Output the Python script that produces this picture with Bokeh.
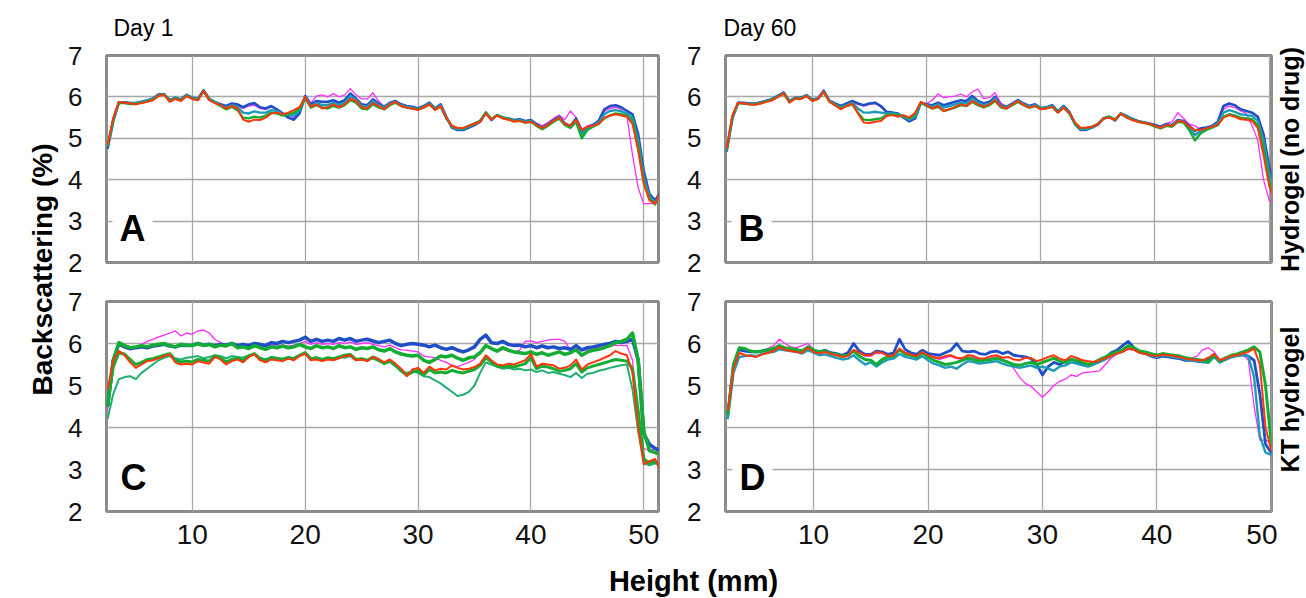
import numpy as np
from bokeh.plotting import figure
from bokeh.models import Range1d, FixedTicker, Label
from bokeh.layouts import row, column
from bokeh.embed import file_html
from bokeh.resources import INLINE

FONT = "Liberation Sans"

# ---------------- data ----------------
x_ticks = [10, 20, 30, 40, 50]
y_ticks = [2, 3, 4, 5, 6, 7]
height_ac = np.round(np.arange(2.5, 51.51, 0.5), 2)   # Height (mm), panels A and C
height_bd = np.round(np.arange(2.5, 50.51, 0.5), 2)   # Height (mm), panels B and D

# Panel A : hydrogel (no drug), day 1
a_mag = [4.75,5.42,5.88,5.87,5.86,5.85,5.88,5.92,5.97,6.08,
         6.06,5.92,5.98,5.94,6.06,5.98,5.95,6.17,5.95,5.88,
         5.84,5.76,5.82,5.80,5.72,5.78,5.80,5.72,5.70,5.76,
         5.70,5.62,5.55,5.50,5.62,6.02,5.85,6.02,6.05,6.00,
         6.08,6.00,6.05,6.20,6.05,5.95,5.95,6.10,5.90,5.76,
         5.86,5.90,5.82,5.78,5.76,5.72,5.78,5.86,5.72,5.82,
         5.52,5.28,5.22,5.22,5.28,5.34,5.42,5.62,5.46,5.56,
         5.50,5.48,5.44,5.46,5.42,5.44,5.36,5.30,5.38,5.48,
         5.56,5.45,5.66,5.50,5.22,5.30,5.34,5.42,5.65,5.72,
         5.75,5.70,5.55,4.60,3.80,3.42,3.42,3.42,3.60]
a_blue = [4.75,5.42,5.87,5.87,5.85,5.85,5.88,5.91,5.96,6.05,
          6.07,5.92,5.98,5.94,6.05,5.98,5.95,6.16,5.95,5.88,
          5.82,5.78,5.84,5.82,5.75,5.82,5.85,5.75,5.72,5.78,
          5.70,5.60,5.50,5.45,5.60,6.02,5.82,5.90,5.88,5.88,
          5.92,5.86,5.92,6.08,5.96,5.82,5.80,5.94,5.84,5.76,
          5.86,5.90,5.82,5.78,5.76,5.72,5.78,5.86,5.72,5.82,
          5.52,5.26,5.20,5.20,5.26,5.32,5.40,5.62,5.44,5.56,
          5.50,5.48,5.44,5.46,5.42,5.44,5.34,5.26,5.34,5.44,
          5.52,5.36,5.30,5.48,5.18,5.26,5.32,5.42,5.70,5.78,
          5.80,5.75,5.66,5.58,5.10,4.20,3.65,3.50,3.72]
a_teal = [4.80,5.45,5.87,5.86,5.84,5.84,5.87,5.90,5.95,6.04,
          6.06,5.91,5.97,5.93,6.04,5.97,5.94,6.14,5.94,5.87,
          5.80,5.74,5.80,5.76,5.62,5.60,5.65,5.62,5.62,5.68,
          5.66,5.58,5.56,5.55,5.66,6.00,5.78,5.85,5.80,5.80,
          5.86,5.80,5.86,6.02,5.92,5.78,5.76,5.90,5.80,5.74,
          5.84,5.88,5.80,5.76,5.74,5.70,5.76,5.84,5.70,5.80,
          5.50,5.28,5.22,5.22,5.28,5.34,5.42,5.62,5.46,5.56,
          5.50,5.47,5.42,5.44,5.40,5.42,5.32,5.24,5.32,5.42,
          5.50,5.34,5.28,5.44,5.10,5.24,5.30,5.38,5.58,5.66,
          5.68,5.65,5.60,5.50,4.95,4.05,3.60,3.45,3.68]
a_green = [4.80,5.45,5.86,5.85,5.83,5.83,5.86,5.89,5.93,6.03,
           6.06,5.90,5.96,5.92,6.03,5.96,5.93,6.14,5.93,5.86,
           5.78,5.70,5.76,5.68,5.50,5.48,5.52,5.50,5.55,5.62,
           5.60,5.55,5.58,5.62,5.70,5.98,5.74,5.80,5.74,5.72,
           5.78,5.74,5.80,5.92,5.86,5.72,5.70,5.82,5.75,5.70,
           5.80,5.86,5.78,5.74,5.72,5.70,5.74,5.82,5.70,5.76,
           5.48,5.30,5.24,5.24,5.30,5.36,5.42,5.62,5.46,5.56,
           5.50,5.46,5.42,5.42,5.38,5.40,5.30,5.22,5.30,5.40,
           5.48,5.32,5.25,5.40,5.00,5.20,5.28,5.35,5.48,5.55,
           5.60,5.58,5.55,5.42,4.80,3.95,3.55,3.40,3.70]
a_red = [4.85,5.50,5.88,5.86,5.84,5.82,5.85,5.88,5.92,6.02,
         6.05,5.88,5.95,5.90,6.02,5.95,5.92,6.15,5.92,5.85,
         5.80,5.72,5.78,5.72,5.45,5.40,5.45,5.44,5.50,5.60,
         5.62,5.58,5.62,5.68,5.75,6.00,5.76,5.82,5.72,5.75,
         5.82,5.75,5.82,5.95,5.90,5.75,5.72,5.85,5.78,5.70,
         5.82,5.88,5.78,5.74,5.72,5.68,5.75,5.82,5.68,5.78,
         5.50,5.30,5.25,5.25,5.30,5.35,5.40,5.60,5.45,5.55,
         5.48,5.45,5.40,5.42,5.38,5.40,5.32,5.25,5.32,5.42,
         5.50,5.35,5.30,5.45,5.20,5.28,5.30,5.35,5.50,5.55,
         5.58,5.55,5.52,5.35,4.70,3.90,3.50,3.42,3.75]

# Panel B : hydrogel (no drug), day 60
b_mag = [4.68,5.48,5.87,5.86,5.85,5.84,5.88,5.92,5.96,6.04,
         6.12,5.90,5.98,5.98,6.05,5.93,5.97,6.18,5.91,5.84,
         5.78,5.84,5.90,5.82,5.78,5.82,5.84,5.76,5.62,5.60,
         5.58,5.50,5.42,5.50,5.86,5.84,5.92,6.07,5.98,6.00,
         6.02,6.07,6.00,6.12,6.19,5.96,5.98,6.10,5.86,5.76,
         5.84,5.92,5.84,5.78,5.82,5.73,5.75,5.80,5.65,5.78,
         5.64,5.34,5.22,5.22,5.27,5.34,5.48,5.52,5.43,5.60,
         5.54,5.47,5.42,5.39,5.36,5.32,5.30,5.36,5.40,5.62,
         5.48,5.34,5.30,5.22,5.26,5.30,5.40,5.70,5.78,5.74,
         5.66,5.60,5.30,4.95,4.00,3.50,3.40]
b_blue = [4.68,5.48,5.86,5.86,5.84,5.84,5.87,5.91,5.95,6.03,
          6.10,5.90,5.98,5.98,6.04,5.93,5.97,6.14,5.91,5.84,
          5.78,5.84,5.90,5.84,5.80,5.84,5.86,5.78,5.64,5.62,
          5.60,5.50,5.41,5.48,5.85,5.82,5.80,5.86,5.80,5.84,
          5.88,5.92,5.90,6.02,5.90,5.84,5.88,6.00,5.80,5.76,
          5.84,5.92,5.84,5.78,5.82,5.73,5.75,5.80,5.65,5.78,
          5.64,5.34,5.20,5.21,5.26,5.33,5.48,5.52,5.43,5.60,
          5.54,5.47,5.42,5.39,5.36,5.32,5.28,5.34,5.32,5.44,
          5.42,5.30,5.18,5.24,5.26,5.30,5.40,5.78,5.84,5.80,
          5.70,5.66,5.62,5.52,5.10,4.30,3.90]
b_teal = [4.70,5.50,5.86,5.85,5.83,5.83,5.86,5.90,5.94,6.02,
          6.09,5.89,5.97,5.97,6.03,5.92,5.96,6.13,5.90,5.82,
          5.75,5.80,5.86,5.72,5.62,5.62,5.64,5.62,5.60,5.60,
          5.58,5.52,5.45,5.52,5.86,5.80,5.76,5.82,5.74,5.78,
          5.82,5.86,5.84,5.96,5.86,5.80,5.84,5.96,5.78,5.74,
          5.82,5.90,5.82,5.76,5.80,5.72,5.74,5.78,5.64,5.76,
          5.62,5.35,5.22,5.23,5.27,5.34,5.48,5.52,5.44,5.60,
          5.52,5.46,5.41,5.38,5.35,5.30,5.26,5.32,5.30,5.42,
          5.40,5.25,5.08,5.18,5.22,5.28,5.36,5.62,5.68,5.64,
          5.58,5.56,5.54,5.42,4.95,4.15,3.75]
b_green = [4.72,5.52,5.85,5.84,5.82,5.82,5.85,5.89,5.93,6.01,
           6.08,5.88,5.96,5.96,6.02,5.91,5.95,6.12,5.89,5.80,
           5.72,5.78,5.82,5.62,5.45,5.44,5.46,5.48,5.56,5.58,
           5.55,5.54,5.48,5.58,5.86,5.78,5.72,5.76,5.66,5.70,
           5.74,5.80,5.78,5.88,5.80,5.75,5.80,5.90,5.75,5.72,
           5.80,5.88,5.80,5.74,5.78,5.71,5.73,5.76,5.63,5.74,
           5.60,5.36,5.24,5.25,5.28,5.35,5.48,5.52,5.45,5.60,
           5.52,5.45,5.40,5.38,5.34,5.28,5.24,5.30,5.28,5.40,
           5.38,5.20,4.95,5.12,5.20,5.26,5.32,5.52,5.58,5.55,
           5.50,5.48,5.46,5.32,4.75,3.95,3.60]
b_red = [4.75,5.55,5.86,5.84,5.82,5.81,5.84,5.88,5.92,6.00,
         6.08,5.86,5.96,5.95,6.02,5.90,5.95,6.12,5.88,5.80,
         5.70,5.78,5.84,5.60,5.38,5.37,5.40,5.42,5.54,5.56,
         5.52,5.56,5.50,5.62,5.88,5.80,5.72,5.78,5.66,5.70,
         5.76,5.82,5.78,5.90,5.82,5.76,5.82,5.92,5.76,5.72,
         5.82,5.90,5.80,5.74,5.78,5.70,5.72,5.76,5.62,5.74,
         5.62,5.38,5.25,5.26,5.28,5.34,5.48,5.50,5.44,5.60,
         5.50,5.44,5.40,5.37,5.35,5.30,5.25,5.32,5.30,5.42,
         5.40,5.28,5.20,5.20,5.24,5.28,5.33,5.50,5.56,5.52,
         5.46,5.45,5.42,5.25,4.60,3.85,3.50]

# Panel C : KT hydrogel, day 1
c_mag = [4.40,5.50,5.95,5.90,5.85,5.90,5.98,6.05,6.10,6.15,
         6.20,6.25,6.30,6.18,6.25,6.22,6.30,6.32,6.25,6.10,
         6.02,5.95,5.98,5.92,5.95,5.90,5.96,5.94,5.92,5.96,
         5.94,5.96,5.94,5.96,6.00,6.05,5.98,6.02,5.98,6.00,
         5.98,6.02,6.00,6.04,5.98,6.00,6.02,5.98,5.95,5.92,
         5.96,5.90,5.85,5.84,5.82,5.80,5.70,5.68,5.66,5.60,
         5.55,5.48,5.45,5.50,5.55,5.62,5.80,5.95,5.86,5.80,
         5.86,5.82,5.80,5.84,6.05,6.06,6.02,6.05,6.08,6.10,
         6.10,6.05,5.85,5.90,5.82,5.86,5.88,5.90,5.92,5.94,
         5.96,5.95,5.95,5.60,3.90,3.50,3.45,3.50,3.30]
c_blue = [4.50,5.60,6.00,5.92,5.88,5.90,5.92,5.90,5.94,5.96,
          5.98,5.94,5.92,5.96,5.95,5.96,6.00,5.96,5.98,5.95,
          5.98,5.96,6.00,5.95,5.98,5.95,6.00,5.98,5.95,6.02,
          6.00,6.05,6.02,6.05,6.08,6.15,6.05,6.10,6.05,6.08,
          6.05,6.12,6.08,6.12,6.05,6.08,6.10,6.06,6.02,6.05,
          6.08,6.00,5.95,5.98,6.00,5.98,5.96,5.92,5.96,5.90,
          5.86,5.90,5.84,5.80,5.85,5.92,6.10,6.20,6.02,6.00,
          6.05,5.98,5.95,5.96,5.92,5.95,5.90,5.94,5.90,5.92,
          5.88,5.90,5.86,5.95,5.85,5.90,5.92,5.95,5.98,6.00,
          6.05,6.02,6.05,6.10,5.60,3.85,3.60,3.50,3.45]
c_green_up = [4.50,5.60,6.02,5.95,5.90,5.92,5.95,5.92,5.96,5.98,
              6.00,5.95,5.92,5.98,5.96,5.95,6.00,5.95,5.98,5.92,
              5.96,5.94,6.00,5.90,5.92,5.88,5.95,5.90,5.86,5.92,
              5.90,5.94,5.90,5.92,5.98,5.92,5.88,5.95,5.90,5.92,
              5.88,5.95,5.90,5.92,5.86,5.90,5.88,5.92,5.85,5.82,
              5.88,5.80,5.75,5.72,5.70,5.72,5.60,5.55,5.62,5.70,
              5.68,5.72,5.65,5.60,5.66,5.68,5.78,5.95,5.88,5.82,
              5.90,5.84,5.80,5.78,5.76,5.80,5.74,5.78,5.72,5.76,
              5.80,5.74,5.78,5.85,5.72,5.80,5.84,5.86,5.90,5.95,
              6.02,6.05,6.10,6.25,5.60,3.90,3.45,3.40,3.35]
c_green_low = [4.20,4.80,5.15,5.20,5.22,5.15,5.30,5.40,5.50,5.60,
               5.66,5.70,5.65,5.62,5.66,5.68,5.70,5.65,5.68,5.72,
               5.70,5.65,5.70,5.68,5.66,5.72,5.75,5.66,5.62,5.68,
               5.66,5.64,5.68,5.65,5.72,5.75,5.65,5.66,5.62,5.66,
               5.64,5.68,5.66,5.70,5.60,5.62,5.60,5.64,5.58,5.52,
               5.56,5.46,5.36,5.30,5.34,5.30,5.22,5.20,5.12,5.05,
               4.95,4.85,4.75,4.78,4.85,5.00,5.30,5.55,5.50,5.45,
               5.40,5.42,5.38,5.40,5.36,5.38,5.32,5.36,5.30,5.32,
               5.28,5.25,5.20,5.30,5.18,5.28,5.30,5.35,5.38,5.42,
               5.45,5.48,5.50,4.90,3.90,3.15,3.10,3.15,3.10]
c_green_mid = [4.60,5.45,5.78,5.75,5.62,5.50,5.55,5.62,5.64,5.68,
               5.72,5.76,5.60,5.56,5.58,5.56,5.62,5.60,5.58,5.70,
               5.66,5.56,5.62,5.66,5.60,5.70,5.76,5.64,5.60,5.66,
               5.64,5.62,5.66,5.64,5.72,5.78,5.64,5.66,5.62,5.66,
               5.64,5.68,5.72,5.74,5.62,5.64,5.60,5.68,5.62,5.52,
               5.58,5.48,5.35,5.25,5.32,5.36,5.25,5.38,5.30,5.32,
               5.30,5.36,5.32,5.30,5.34,5.38,5.48,5.66,5.56,5.46,
               5.44,5.46,5.44,5.48,5.52,5.66,5.40,5.46,5.44,5.40,
               5.34,5.36,5.40,5.52,5.32,5.42,5.46,5.50,5.54,5.58,
               5.62,5.60,5.58,5.40,4.40,3.25,3.15,3.20,3.05]
c_red = [4.90,5.60,5.82,5.72,5.55,5.42,5.50,5.58,5.60,5.65,
         5.70,5.74,5.55,5.50,5.52,5.50,5.58,5.55,5.52,5.68,
         5.62,5.50,5.58,5.62,5.55,5.68,5.74,5.60,5.55,5.62,
         5.60,5.58,5.64,5.60,5.70,5.76,5.60,5.62,5.58,5.62,
         5.60,5.65,5.70,5.72,5.60,5.62,5.58,5.68,5.62,5.55,
         5.62,5.52,5.40,5.22,5.38,5.42,5.30,5.45,5.36,5.40,
         5.38,5.48,5.42,5.38,5.40,5.44,5.52,5.72,5.60,5.50,
         5.48,5.52,5.50,5.55,5.60,5.75,5.45,5.52,5.50,5.48,
         5.40,5.42,5.48,5.62,5.38,5.50,5.55,5.60,5.66,5.72,
         5.82,5.76,5.72,5.30,4.00,3.12,3.20,3.25,2.95]

# Panel D : KT hydrogel, day 60
d_mag = [4.30,5.50,5.86,5.84,5.82,5.80,5.84,5.88,5.95,6.10,
         6.00,5.92,5.90,5.95,6.00,5.86,5.80,5.84,5.78,5.76,
         5.72,5.74,5.84,5.78,5.70,5.70,5.78,5.76,5.72,5.74,
         5.86,5.78,5.74,5.70,5.76,5.70,5.66,5.62,5.66,5.70,
         5.64,5.62,5.68,5.66,5.62,5.62,5.66,5.68,5.62,5.58,
         5.40,5.20,5.05,4.98,4.85,4.72,4.85,5.00,5.10,5.15,
         5.25,5.22,5.30,5.32,5.33,5.35,5.50,5.65,5.75,5.80,
         5.86,5.84,5.78,5.75,5.72,5.70,5.74,5.72,5.70,5.68,
         5.66,5.64,5.70,5.85,5.90,5.80,5.62,5.66,5.70,5.72,
         5.75,5.60,4.50,3.70,3.70,3.65,3.65]
d_blue = [4.30,5.50,5.85,5.82,5.80,5.80,5.82,5.84,5.86,5.92,
          5.88,5.86,5.84,5.82,5.92,5.84,5.80,5.84,5.78,5.76,
          5.72,5.78,6.00,5.82,5.74,5.74,5.82,5.80,5.74,5.78,
          6.10,5.86,5.78,5.74,5.84,5.76,5.74,5.72,5.78,5.84,
          6.00,5.82,5.80,5.82,5.76,5.74,5.80,5.82,5.76,5.80,
          5.72,5.70,5.68,5.64,5.50,5.25,5.45,5.55,5.50,5.58,
          5.62,5.58,5.52,5.50,5.52,5.58,5.66,5.78,5.84,5.95,
          6.05,5.90,5.80,5.76,5.70,5.66,5.70,5.68,5.66,5.64,
          5.60,5.60,5.58,5.56,5.62,5.74,5.56,5.62,5.68,5.72,
          5.74,5.70,5.60,4.80,3.60,3.40,3.40]
d_teal = [4.20,5.30,5.68,5.70,5.72,5.70,5.75,5.78,5.80,5.86,
          5.84,5.82,5.80,5.76,5.84,5.78,5.72,5.74,5.70,5.66,
          5.62,5.64,5.72,5.60,5.50,5.55,5.45,5.55,5.62,5.64,
          5.75,5.68,5.65,5.62,5.70,5.60,5.52,5.48,5.42,5.45,
          5.40,5.50,5.58,5.56,5.52,5.54,5.56,5.58,5.52,5.48,
          5.45,5.42,5.45,5.48,5.42,5.45,5.40,5.35,5.45,5.48,
          5.55,5.52,5.48,5.45,5.50,5.56,5.62,5.70,5.76,5.80,
          5.90,5.86,5.78,5.76,5.72,5.68,5.72,5.70,5.68,5.66,
          5.62,5.60,5.58,5.56,5.54,5.68,5.55,5.62,5.68,5.70,
          5.72,5.70,5.20,3.80,3.40,3.35,3.35]
d_green = [4.30,5.50,5.90,5.88,5.82,5.80,5.82,5.85,5.88,5.95,
           5.90,5.88,5.86,5.82,5.92,5.85,5.80,5.82,5.76,5.74,
           5.70,5.72,5.82,5.70,5.62,5.60,5.50,5.62,5.68,5.70,
           5.85,5.75,5.72,5.68,5.78,5.68,5.60,5.55,5.50,5.52,
           5.55,5.60,5.65,5.62,5.58,5.60,5.62,5.65,5.60,5.55,
           5.50,5.48,5.52,5.55,5.50,5.55,5.60,5.65,5.58,5.55,
           5.62,5.60,5.55,5.50,5.55,5.62,5.68,5.75,5.80,5.85,
           5.95,5.90,5.82,5.80,5.76,5.72,5.76,5.74,5.72,5.70,
           5.66,5.64,5.62,5.60,5.56,5.72,5.58,5.66,5.72,5.75,
           5.80,5.85,5.92,5.80,5.00,3.60,3.40]
d_red = [4.40,5.40,5.78,5.72,5.70,5.68,5.74,5.78,5.82,5.92,
         5.85,5.82,5.80,5.78,5.90,5.80,5.76,5.80,5.75,5.72,
         5.68,5.70,5.85,5.78,5.72,5.72,5.80,5.78,5.70,5.72,
         5.88,5.78,5.74,5.70,5.80,5.72,5.68,5.65,5.70,5.72,
         5.66,5.65,5.72,5.70,5.64,5.65,5.70,5.72,5.66,5.68,
         5.62,5.60,5.66,5.65,5.58,5.62,5.68,5.72,5.64,5.60,
         5.70,5.66,5.60,5.58,5.56,5.60,5.65,5.70,5.76,5.80,
         5.88,5.85,5.78,5.75,5.72,5.70,5.74,5.72,5.70,5.68,
         5.64,5.62,5.60,5.60,5.66,5.75,5.60,5.65,5.70,5.72,
         5.76,5.80,5.88,5.50,4.00,3.45,3.40]

# ---------------- styling ----------------
C_MAG, C_BLUE, C_TEAL = "#ff2cff", "#1f4fc6", "#1c9cb8"
C_GREEN, C_GLOW, C_RED = "#12ad32", "#20b070", "#ff360a"
GRID = "#a8a8a8"
FRAME = "#8c8c8c"
SH = 0.41   # rendered baseline sits ~0.41 em lower than the anchor; compensate

LEFT_W, RIGHT_W = 62, 29
A_W, B_W = 622, 593
HEAD_H, ROW1_H, ROW2_H, FOOT_H = 41, 242, 277, 38
TOTAL_H = HEAD_H + ROW1_H + ROW2_H + FOOT_H
PAD = 7


def panel(width, height, xr, grid_y, borders, show_x):
    left, right, top, bottom = borders
    p = figure(width=width, height=height, x_range=Range1d(*xr), y_range=Range1d(2, 7),
               output_backend="svg", toolbar_location=None,
               min_border_left=left, min_border_right=right,
               min_border_top=top, min_border_bottom=bottom)
    p.background_fill_color = "white"
    p.border_fill_color = "white"
    p.outline_line_color = FRAME
    p.outline_line_width = 3
    p.xaxis.ticker = FixedTicker(ticks=x_ticks)
    p.yaxis.ticker = FixedTicker(ticks=y_ticks)
    p.xgrid.ticker = FixedTicker(ticks=x_ticks)
    p.ygrid.ticker = FixedTicker(ticks=grid_y)
    p.grid.grid_line_color = GRID
    p.grid.grid_line_width = 1.3
    for ax in p.axis:
        ax.axis_line_color = None
        ax.major_tick_line_color = None
        ax.minor_tick_line_color = None
        ax.major_label_text_font = FONT
        ax.major_label_text_color = "#111111"
    p.yaxis.major_label_text_font_size = "26px"
    p.yaxis.major_label_standoff = 18
    p.xaxis.major_label_text_font_size = "28px"
    p.xaxis.major_label_standoff = 7
    if not show_x:
        p.xaxis.visible = False
    return p


def add_series(p, x, series):
    for y, color, w in series:
        p.line(x, y, line_color=color, line_width=w, line_join="round")


def letter(p, xr, text, dx):
    p.add_layout(Label(x=xr[0], y=2, x_offset=dx - PAD, y_offset=19 + SH * 36, text=text,
                       text_font=FONT, text_font_size="36px", text_font_style="bold",
                       text_color="black", text_baseline="alphabetic",
                       background_fill_color="white", padding=PAD))


def blank(width, height):
    p = figure(width=width, height=height, x_range=Range1d(0, width), y_range=Range1d(0, height),
               output_backend="svg", toolbar_location=None, min_border=0)
    p.axis.visible = False
    p.grid.visible = False
    p.outline_line_color = None
    p.background_fill_color = "white"
    p.border_fill_color = "white"
    return p


def text(p, x, y, s, size, bold=False, angle=0.0, align="left"):
    p.add_layout(Label(x=x, y=y, text=s, angle=angle, text_font=FONT,
                       text_font_size=f"{size}px", text_font_style="bold" if bold else "normal",
                       text_color="black", text_align=align, text_baseline="alphabetic"))


xr_ac = (2.4, 51.3)
xr_b = (2.4, 50.2)
xr_d = (2.3, 50.02)

pA = panel(A_W, ROW1_H, xr_ac, [3, 4, 5, 6], (44, 26, 14, 21), False)
add_series(pA, height_ac, [(a_mag, C_MAG, 1.3), (a_blue, C_BLUE, 2.6), (a_teal, C_TEAL, 2.4),
                           (a_green, C_GREEN, 2.4), (a_red, C_RED, 2.0)])
letter(pA, xr_ac, "A", 13)

pB = panel(B_W, ROW1_H, xr_b, [3, 4, 5, 6], (35, 6, 14, 21), False)
add_series(pB, height_bd, [(b_mag, C_MAG, 1.3), (b_blue, C_BLUE, 2.6), (b_teal, C_TEAL, 2.4),
                           (b_green, C_GREEN, 2.4), (b_red, C_RED, 2.0)])
letter(pB, xr_b, "B", 13)

pC = panel(A_W, ROW2_H, xr_ac, [4, 6], (44, 26, 18, 49), True)
add_series(pC, height_ac, [(c_mag, C_MAG, 1.3), (c_blue, C_BLUE, 3.5), (c_green_up, C_GREEN, 3.5),
                           (c_green_low, C_GLOW, 2.0), (c_green_mid, C_GREEN, 3.0), (c_red, C_RED, 2.0)])
letter(pC, xr_ac, "C", 14)

pD = panel(B_W, ROW2_H, xr_d, [3, 4, 5, 6], (35, 6, 18, 49), True)
add_series(pD, height_bd, [(d_mag, C_MAG, 1.3), (d_blue, C_BLUE, 2.8), (d_teal, C_TEAL, 2.4),
                           (d_green, C_GREEN, 3.0), (d_red, C_RED, 2.0)])
letter(pD, xr_d, "D", 14)

# header with the day labels (baseline at page y 37)
header = blank(A_W + B_W, HEAD_H)
text(header, 51, HEAD_H - 37 + SH * 23, "Day 1", 23)
text(header, 661, HEAD_H - 37 + SH * 23, "Day 60", 23)

# footer with the x axis title (baseline at page y 592)
footer = blank(A_W + B_W, FOOT_H)
text(footer, 631, (TOTAL_H - 592) + SH * 29, "Height (mm)", 29, bold=True, align="center")

# left strip with the y axis title (baseline at page x 53)
left = blank(LEFT_W, TOTAL_H)
text(left, 53 - SH * 28, TOTAL_H - 269, "Backscattering (%)", 28, bold=True,
     angle=np.pi / 2, align="center")

# right strip with the row titles (baseline at page x 1300)
right = blank(RIGHT_W, TOTAL_H)
text(right, 23 - SH * 25, TOTAL_H - 159, "Hydrogel (no drug)", 25, bold=True,
     angle=np.pi / 2, align="center")
text(right, 23 - SH * 25, TOTAL_H - 399, "KT hydrogel", 25, bold=True,
     angle=np.pi / 2, align="center")

layout = row(left,
             column(header, row(pA, pB), row(pC, pD), footer),
             right)

open("out.html", "w").write(file_html(layout, INLINE))
